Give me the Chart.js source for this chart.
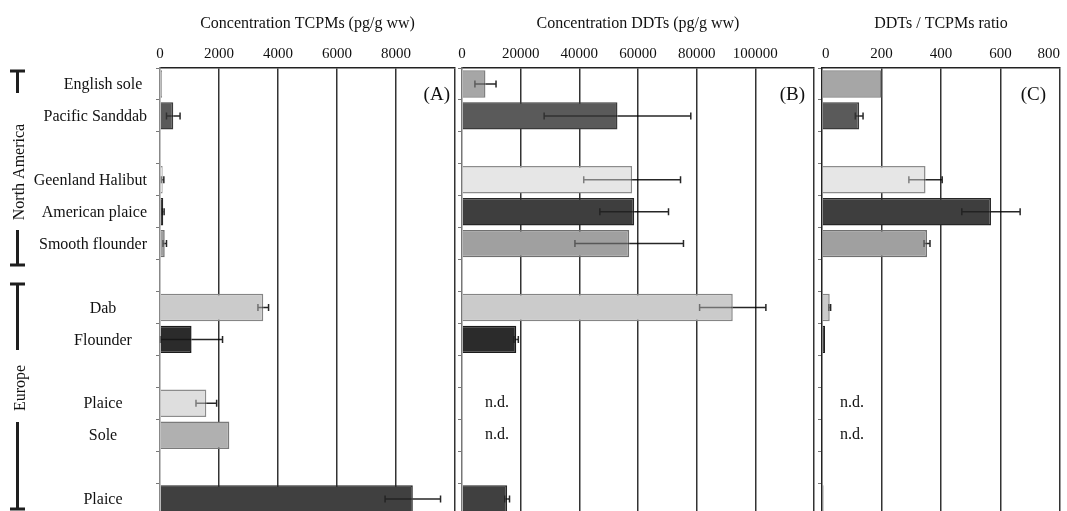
<!DOCTYPE html>
<html><head><meta charset="utf-8">
<script src="https://cdn.jsdelivr.net/npm/chart.js@4.4.1/dist/chart.umd.min.js"></script>
<style>
html,body{margin:0;padding:0;background:#fff;overflow:hidden;}
#wrap{position:relative;width:1067px;height:511px;overflow:hidden;background:#fff;}
canvas{position:absolute;top:0;}
</style></head><body>
<div id="wrap">
<canvas id="cA" width="456" height="520" style="left:0px"></canvas>
<canvas id="cB" width="359" height="520" style="left:456px"></canvas>
<canvas id="cC" width="252" height="520" style="left:815px"></canvas>
</div>
<script>
// ---------- data ----------
const categories = ['English sole','Pacific Sanddab','','Geenland Halibut','American plaice','Smooth flounder','','Dab','Flounder','','Plaice','Sole','','Plaice'];
const tcpm     = [70, 450, null, 90, 110, 160, null, 3500, 1070, null, 1570, 2350, null, 8570];
const tcpmErr  = [0, 230, 0, 40, 30, 60, 0, 180, 1050, 0, 350, 0, 0, 940];
const ddt      = [8000, 53000, null, 58000, 58700, 57000, null, 92300, 18500, null, null, null, null, 15400];
const ddtErr   = [3600, 25000, 0, 16500, 11700, 18500, 0, 11300, 700, 0, 0, 0, 0, 800];
const ratio    = [200, 125, null, 348, 568, 353, null, 26, 10, null, null, null, null, 5];
const ratioErr = [0, 13, 0, 56, 98, 10, 0, 3, 0, 0, 0, 0, 0, 0];
const notDetected = [false,false,false,false,false,false,false,false,false,false,true,true,false,false];
const tcpmTicks  = [0, 2000, 4000, 6000, 8000];
const ddtTicks   = [0, 20000, 40000, 60000, 80000, 100000];
const ratioTicks = [0, 200, 400, 600, 800];
const groups = ['North America', 'Europe'];

// ---------- styles ----------
const fills   = ['#a6a6a6','#5a5a5a','#ffffff','#e6e6e6','#3e3e3e','#a0a0a0','#ffffff','#cbcbcb','#2b2b2b','#ffffff','#dedede','#b0b0b0','#ffffff','#404040'];
const borders = ['#808080','#3a3a3a','#ffffff','#8c8c8c','#262626','#707070','#ffffff','#858585','#1a1a1a','#ffffff','#8c8c8c','#7a7a7a','#ffffff','#262626'];
const FONT = '"Liberation Serif", "Times New Roman", serif';

function makeExtras(cfg){
  return {
    id: 'extras',
    afterDatasetsDraw(chart){
      const ctx = chart.ctx, xs = chart.scales.x, ys = chart.scales.y, ca = chart.chartArea;
      ctx.save();
      // error bars
      cfg.values.forEach((v,i)=>{
        const e = cfg.err[i];
        if (v == null || !e) return;
        const y = ys.getPixelForValue(i);
        const lo = Math.max(xs.getPixelForValue(v - e), ca.left);
        const end = xs.getPixelForValue(v);
        const hi = xs.getPixelForValue(v + e);
        const cap = 3.5;
        ctx.lineWidth = 1.5;
        ctx.strokeStyle = 'rgba(0,0,0,0.45)';
        ctx.beginPath();
        ctx.moveTo(lo, y); ctx.lineTo(end, y);
        ctx.moveTo(lo, y - cap); ctx.lineTo(lo, y + cap);
        ctx.stroke();
        ctx.strokeStyle = 'rgba(0,0,0,0.85)';
        ctx.beginPath();
        ctx.moveTo(end, y); ctx.lineTo(hi, y);
        ctx.moveTo(hi, y - cap); ctx.lineTo(hi, y + cap);
        ctx.stroke();
      });
      // n.d.
      if (cfg.nd) {
        ctx.fillStyle = '#111';
        ctx.font = '16px ' + FONT;
        ctx.textAlign = 'center';
        ctx.textBaseline = 'middle';
        notDetected.forEach((f,i)=>{
          if (!f) return;
          ctx.fillText('n.d.', xs.getPixelForValue(0) + cfg.ndOffset, ys.getPixelForValue(i));
        });
      }
      // panel letter
      ctx.fillStyle = '#111';
      ctx.font = '19px ' + FONT;
      ctx.textAlign = 'right';
      ctx.textBaseline = 'middle';
      ctx.fillText(cfg.letter, ca.right - cfg.letterOffset, ca.top + 27);
      // category labels + group brackets
      if (cfg.labels) {
        ctx.font = '16px ' + FONT;
        ctx.textAlign = 'center';
        ctx.fillStyle = '#111';
        categories.forEach((c,i)=>{
          if (!c) return;
          const w = ctx.measureText(c).width;
          const cx = Math.min(103, 147 - w/2);
          ctx.fillText(c, cx, ys.getPixelForValue(i) + 1);
        });
        ctx.strokeStyle = '#1e1e1e';
        ctx.lineWidth = 3;
        const segs = [[71,93],[230,265],[284,350],[422,509]];
        ctx.beginPath();
        segs.forEach(s=>{ ctx.moveTo(17.5, s[0]); ctx.lineTo(17.5, s[1]); });
        ctx.moveTo(10,71); ctx.lineTo(25,71);
        ctx.moveTo(10,265); ctx.lineTo(25,265);
        ctx.moveTo(10,284); ctx.lineTo(25,284);
        ctx.moveTo(10,509); ctx.lineTo(25,509);
        ctx.stroke();
        ctx.font = '16px ' + FONT;
        const rot = [[groups[0], 20, 172],[groups[1], 21, 388]];
        rot.forEach(r=>{
          ctx.save();
          ctx.translate(r[1], r[2]);
          ctx.rotate(-Math.PI/2);
          ctx.textAlign = 'center';
          ctx.textBaseline = 'middle';
          ctx.fillText(r[0], 0, 0);
          ctx.restore();
        });
      }
      ctx.restore();
    }
  };
}

function makeChart(id, cfg){
  return new Chart(document.getElementById(id), {
    type: 'bar',
    data: {
      labels: categories,
      datasets: [{
        data: cfg.values,
        backgroundColor: fills,
        borderColor: borders,
        borderWidth: 1.5,
        barPercentage: 0.86,
        categoryPercentage: 1.0
      }]
    },
    options: {
      indexAxis: 'y',
      responsive: false,
      animation: false,
      devicePixelRatio: 1,
      layout: { padding: { left: 0, right: cfg.padRight, top: 0, bottom: 5 } },
      plugins: { legend: { display: false }, tooltip: { enabled: false } },
      scales: {
        x: {
          position: 'top',
          min: 0, max: cfg.max,
          ticks: {
            stepSize: cfg.step,
            padding: 5,
            color: '#111',
            font: { family: FONT, size: 15 },
            maxRotation: 0,
            autoSkip: false,
            align: cfg.tickAlign || 'center',
            callback: (v) => cfg.ticks.includes(v) ? String(v) : ''
          },
          grid: {
            drawTicks: false,
            lineWidth: 1.5,
            color: (c) => (c.tick && c.tick.value === 0) ? 'rgba(0,0,0,0)' : '#333'
          },
          border: { display: true, color: '#222', width: 1.5 },
          title: {
            display: true,
            text: cfg.title,
            color: '#111',
            font: { family: FONT, size: 16 },
            padding: { top: 14, bottom: 0 }
          },
          afterFit: (s) => { s.height = 68; s.paddingLeft = 0; s.paddingRight = 0; }
        },
        y: {
          ticks: { display: false },
          grid: { drawOnChartArea: false, drawTicks: true, tickLength: 4, color: '#777', lineWidth: 1, offset: true },
          border: { display: true, color: cfg.axisColor, width: 1.5 },
          afterFit: (s) => { s.width = cfg.yWidth; s.paddingTop = 0; s.paddingBottom = 0; }
        }
      }
    },
    plugins: [makeExtras(cfg)]
  });
}

makeChart('cA', { values: tcpm, err: tcpmErr, max: 10000, step: 2000, ticks: tcpmTicks,
  title: 'Concentration TCPMs (pg/g ww)', yWidth: 160, padRight: 1, axisColor: '#888',
  letter: '(A)', letterOffset: 5, labels: true, nd: false });
makeChart('cB', { values: ddt, err: ddtErr, max: 120000, step: 20000, ticks: ddtTicks,
  title: 'Concentration DDTs (pg/g ww)', yWidth: 6, padRight: 1, axisColor: '#777',
  letter: '(B)', letterOffset: 9, labels: false, nd: true, ndOffset: 35 });
makeChart('cC', { values: ratio, err: ratioErr, max: 800, step: 200, ticks: ratioTicks,
  title: 'DDTs / TCPMs ratio', yWidth: 7, padRight: 7, axisColor: '#222', tickAlign: 'inner',
  letter: '(C)', letterOffset: 14, labels: false, nd: true, ndOffset: 30 });
</script>
</body></html>
